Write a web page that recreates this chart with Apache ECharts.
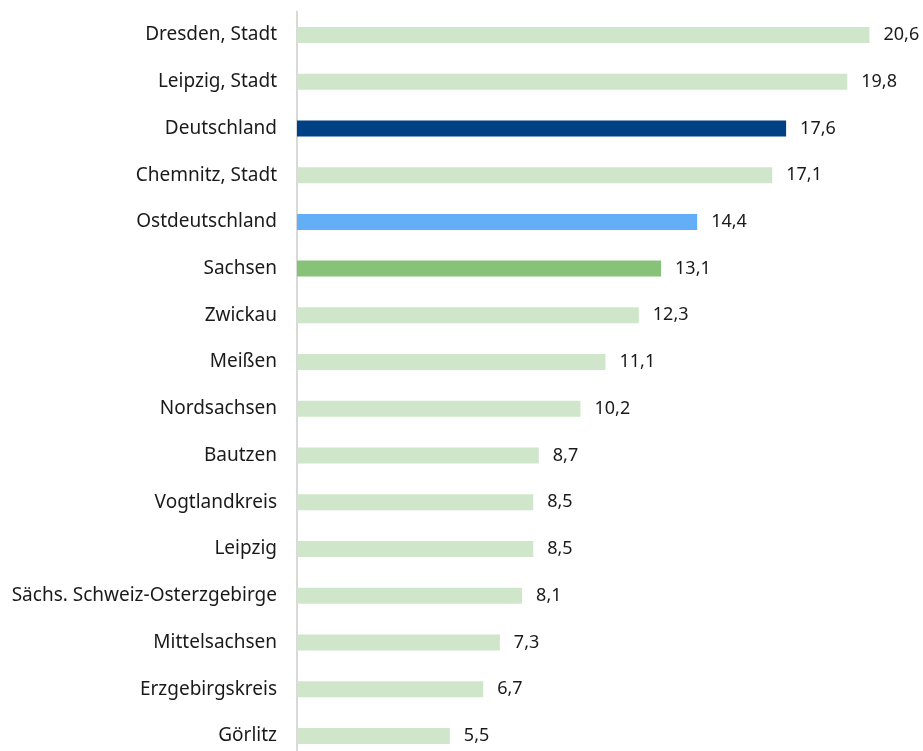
<!DOCTYPE html>
<html>
<head>
<meta charset="utf-8">
<script src="https://cdn.jsdelivr.net/npm/echarts@6/dist/echarts.min.js"></script>
<style>
  html, body { margin: 0; padding: 0; background: #fff; overflow: hidden; }
  /* etwas höher als das Fenster, damit das unterste Band ganz hineinpasst */
  #chart { width: 923px; height: 760px; }
</style>
</head>
<body>
<div id="chart"></div>
<script>
// Kategorien von oben nach unten
const categories = [
  'Dresden, Stadt', 'Leipzig, Stadt', 'Deutschland', 'Chemnitz, Stadt',
  'Ostdeutschland', 'Sachsen', 'Zwickau', 'Meißen', 'Nordsachsen', 'Bautzen',
  'Vogtlandkreis', 'Leipzig', 'Sächs. Schweiz-Osterzgebirge', 'Mittelsachsen',
  'Erzgebirgskreis', 'Görlitz'
]
const values = [20.6, 19.8, 17.6, 17.1, 14.4, 13.1, 12.3, 11.1, 10.2, 8.7, 8.5, 8.5, 8.1, 7.3, 6.7, 5.5]

// Farben der hervorgehobenen Balken
const highlight = {
  'Deutschland': '#004183',
  'Ostdeutschland': '#63aff7',
  'Sachsen': '#86c379'
}
const baseColor = '#cfe6ca'

const fontFamily = '"Noto Sans", sans-serif'

const chart = echarts.init(document.getElementById('chart'), null, { renderer: 'canvas' })

const seriesData = values.map((v, i) => ({
  value: v,
  itemStyle: { color: highlight[categories[i]] || baseColor }
}))

chart.setOption({
  animation: false,
  grid: {
    left: 297,
    top: 11.6,
    width: 611.4,
    height: 747.7,
    containLabel: false
  },
  xAxis: {
    type: 'value',
    min: 0,
    max: 22,
    show: false
  },
  yAxis: {
    type: 'category',
    inverse: true,
    data: categories,
    axisLine: { show: true, lineStyle: { color: '#d9d9d9', width: 2 } },
    axisTick: { show: false },
    axisLabel: {
      margin: 20,
      color: '#1a1a1a',
      fontSize: 19,
      fontFamily: fontFamily
    }
  },
  series: [{
    type: 'bar',
    data: seriesData,
    barWidth: 16,
    label: {
      show: true,
      position: 'right',
      distance: 14,
      color: '#1a1a1a',
      fontSize: 18,
      fontFamily: fontFamily,
      formatter: (p) => p.value.toFixed(1).replace('.', ',')
    }
  }]
})
</script>
</body>
</html>
